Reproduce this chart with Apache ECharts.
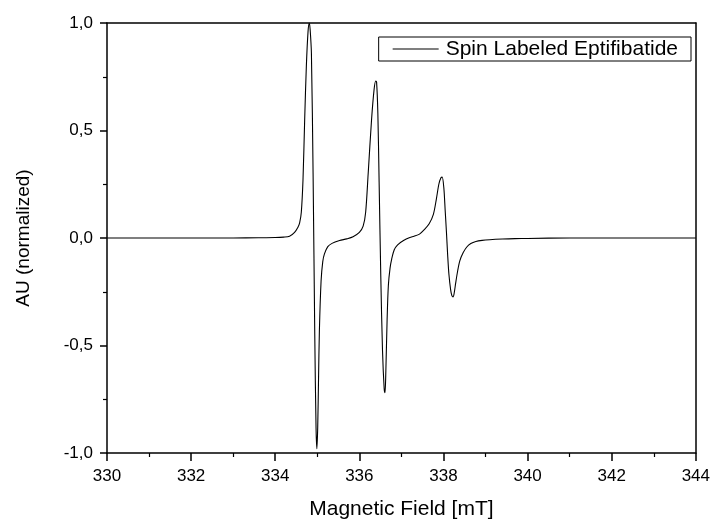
<!DOCTYPE html>
<html>
<head>
<meta charset="utf-8">
<script src="https://cdn.jsdelivr.net/npm/echarts@6/dist/echarts.min.js"></script>
<style>html,body{margin:0;padding:0;background:#fff}#c{width:713px;height:525px}</style>
</head>
<body>
<div id="c"></div>
<script>
var seriesName = 'Spin Labeled Eptifibatide';
var field = [330, 331, 332, 333, 333.6, 334.0, 334.2, 334.34, 334.46, 334.54, 334.58, 334.62, 334.66, 334.70, 334.74, 334.78, 334.81, 334.83, 334.86, 334.90, 334.94, 334.97, 334.99, 335.01, 335.03, 335.05, 335.09, 335.13, 335.17, 335.25, 335.35, 335.53, 335.70, 335.85, 336.00, 336.09, 336.15, 336.21, 336.29, 336.35, 336.39, 336.41, 336.44, 336.47, 336.51, 336.55, 336.59, 336.61, 336.63, 336.66, 336.69, 336.73, 336.77, 336.83, 336.91, 337.05, 337.20, 337.30, 337.43, 337.55, 337.66, 337.76, 337.83, 337.89, 337.94, 337.97, 338.01, 338.04, 338.07, 338.10, 338.13, 338.17, 338.20, 338.23, 338.26, 338.29, 338.34, 338.39, 338.47, 338.55, 338.65, 338.77, 338.92, 339.1, 339.4, 339.7, 340, 341, 342, 343, 344];
var signal = [0, 0, 0, 0, 0.001, 0.002, 0.004, 0.008, 0.026, 0.05, 0.07, 0.12, 0.27, 0.55, 0.80, 0.96, 1.0, 0.97, 0.86, 0.30, -0.45, -0.88, -0.98, -0.88, -0.65, -0.43, -0.20, -0.11, -0.074, -0.040, -0.025, -0.012, -0.004, 0.006, 0.026, 0.055, 0.12, 0.30, 0.55, 0.69, 0.73, 0.725, 0.58, 0.26, -0.18, -0.52, -0.70, -0.72, -0.62, -0.38, -0.22, -0.14, -0.097, -0.055, -0.032, -0.012, 0.002, 0.008, 0.018, 0.040, 0.066, 0.11, 0.18, 0.25, 0.28, 0.283, 0.23, 0.13, 0.03, -0.08, -0.17, -0.24, -0.268, -0.274, -0.25, -0.21, -0.15, -0.105, -0.068, -0.043, -0.026, -0.016, -0.011, -0.008, -0.005, -0.003, -0.002, 0, 0, 0, 0];
var xTicks = [330, 332, 334, 336, 338, 340, 342, 344];
var yTickLabels = {'1': '1,0', '0.5': '0,5', '0': '0,0', '-0.5': '-0,5', '-1': '-1,0'};

var data = field.map(function (f, i) { return [f, signal[i]]; });
var font = 'Liberation Sans, Arial, sans-serif';
var chart = echarts.init(document.getElementById('c'), null, {renderer: 'canvas'});
chart.setOption({
  animation: false,
  backgroundColor: '#fff',
  grid: {left: 107, right: 17, top: 23, bottom: 69},
  legend: {
    data: [seriesName],
    top: 37, right: 22,
    orient: 'horizontal',
    borderColor: '#000', borderWidth: 1, borderRadius: 0,
    padding: [1, 13, 1, 14],
    backgroundColor: '#fff',
    icon: 'rect', itemWidth: 46, itemHeight: 1, itemGap: 0,
    itemStyle: {color: '#000'},
    textStyle: {fontFamily: font, fontSize: 21, lineHeight: 22, color: '#000', padding: [0, 0, 0, 2]}
  },
  xAxis: [{
    type: 'value', min: 330, max: 344, interval: 2,
    name: 'Magnetic Field [mT]', nameLocation: 'middle', nameGap: 46,
    nameTextStyle: {fontFamily: font, fontSize: 21, color: '#000'},
    axisLine: {onZero: false, lineStyle: {color: '#000', width: 1.5}},
    axisTick: {show: true, inside: false, length: 8, lineStyle: {color: '#000', width: 1.5}},
    minorTick: {show: true, splitNumber: 2, length: 4, lineStyle: {color: '#000', width: 1.2}},
    axisLabel: {fontFamily: font, fontSize: 17, color: '#000', margin: 15,
      formatter: function (v) { return xTicks.indexOf(v) >= 0 ? String(v) : ''; }},
    splitLine: {show: false}
  }, {
    type: 'value', min: 330, max: 344, position: 'top',
    axisLine: {onZero: false, lineStyle: {color: '#000', width: 1.5}},
    axisTick: {show: false}, axisLabel: {show: false}, splitLine: {show: false}
  }],
  yAxis: [{
    type: 'value', min: -1, max: 1, interval: 0.5,
    name: 'AU (normalized)', nameLocation: 'middle', nameGap: 74, nameRotate: 90,
    nameTextStyle: {fontFamily: font, fontSize: 19, color: '#000'},
    axisLine: {onZero: false, lineStyle: {color: '#000', width: 1.5}},
    axisTick: {show: true, inside: false, length: 7, lineStyle: {color: '#000', width: 1.5}},
    minorTick: {show: true, splitNumber: 2, length: 4, lineStyle: {color: '#000', width: 1.2}},
    axisLabel: {fontFamily: font, fontSize: 17, color: '#000', margin: 14,
      formatter: function (v) { var k = String(Math.round(v * 100) / 100); return yTickLabels[k] !== undefined ? yTickLabels[k] : ''; }},
    splitLine: {show: false}
  }, {
    type: 'value', min: -1, max: 1, position: 'right',
    axisLine: {show: true, onZero: false, lineStyle: {color: '#000', width: 1.5}},
    axisTick: {show: false}, axisLabel: {show: false}, splitLine: {show: false}
  }],
  series: [{
    name: seriesName, type: 'line', data: data,
    xAxisIndex: 0, yAxisIndex: 0,
    showSymbol: false, symbol: 'none', smooth: 0.3,
    lineStyle: {color: '#000', width: 1.1},
    itemStyle: {color: '#000'}
  }]
});
</script>
</body>
</html>
